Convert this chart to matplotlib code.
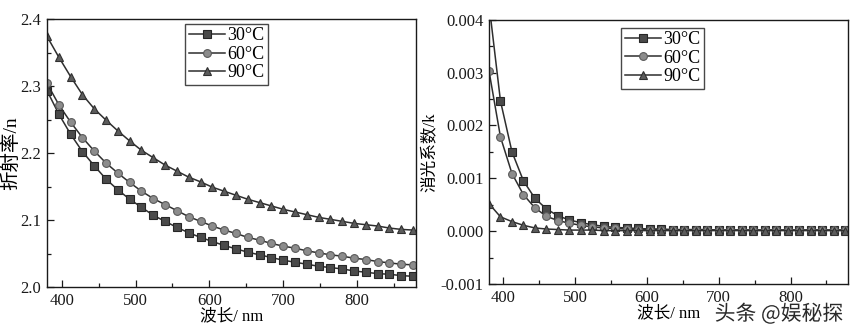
import numpy as np
import matplotlib
matplotlib.use("Agg")
import matplotlib.pyplot as plt
import matplotlib.patheffects as pe
from matplotlib.ticker import MultipleLocator, FormatStrFormatter

plt.rcParams['font.family'] = ['Liberation Serif', 'Noto Sans CJK SC']

wavelength = [380, 396, 412, 428, 444, 460, 476, 492, 508, 524, 540, 556, 572, 588,
              604, 620, 636, 652, 668, 684, 700, 716, 732, 748, 764, 780, 796, 812,
              828, 844, 860, 876]

# refractive index n
n_30 = [2.293, 2.258, 2.228, 2.202, 2.181, 2.161, 2.145, 2.131, 2.119, 2.107, 2.098,
        2.089, 2.081, 2.074, 2.068, 2.062, 2.057, 2.052, 2.048, 2.044, 2.040, 2.037,
        2.034, 2.031, 2.029, 2.027, 2.024, 2.022, 2.020, 2.019, 2.017, 2.016]
n_60 = [2.304, 2.272, 2.246, 2.223, 2.203, 2.185, 2.170, 2.156, 2.143, 2.132, 2.123,
        2.114, 2.105, 2.098, 2.091, 2.085, 2.080, 2.074, 2.070, 2.065, 2.061, 2.058,
        2.054, 2.051, 2.048, 2.046, 2.043, 2.041, 2.038, 2.036, 2.034, 2.033]
n_90 = [2.374, 2.343, 2.314, 2.287, 2.266, 2.249, 2.233, 2.218, 2.204, 2.193, 2.182,
        2.173, 2.164, 2.157, 2.149, 2.143, 2.137, 2.131, 2.126, 2.121, 2.116, 2.112,
        2.108, 2.104, 2.101, 2.098, 2.095, 2.093, 2.091, 2.088, 2.086, 2.085]

# extinction coefficient k
k_30 = [0.00430, 0.00246, 0.00150, 0.00095, 0.00062, 0.00042, 0.00029, 0.00021,
        0.00016, 0.00012, 0.00009, 0.00007, 0.00006, 0.00005, 0.00004, 0.00004,
        0.00003, 0.00003, 0.00003, 0.00003, 0.00002, 0.00002, 0.00002, 0.00002,
        0.00002, 0.00002, 0.00002, 0.00002, 0.00002, 0.00002, 0.00002, 0.00002]
k_60 = [0.00303, 0.00178, 0.00109, 0.00069, 0.00044, 0.00028, 0.00020, 0.00015,
        0.00011, 0.00008, 0.00006, 0.00005, 0.00004, 0.00003, 0.00003, 0.00003,
        0.00002, 0.00002, 0.00002, 0.00002, 0.00002, 0.00002, 0.00002, 0.00002,
        0.00002, 0.00002, 0.00002, 0.00002, 0.00002, 0.00002, 0.00002, 0.00002]
k_90 = [0.00052, 0.00027, 0.00018, 0.00011, 0.00006, 0.00004, 0.00003, 0.00002,
        0.00002, 0.00002, 0.00001, 0.00001, 0.00001, 0.00001, 0.00001, 0.00001,
        0.00001, 0.00001, 0.00001, 0.00001, 0.00001, 0.00001, 0.00001, 0.00001,
        0.00001, 0.00001, 0.00001, 0.00001, 0.00001, 0.00001, 0.00001, 0.00001]

labels = ['30°C', '60°C', '90°C']

styles = [
    dict(marker='s', markerfacecolor='#4a4a4a', markeredgecolor='#262626'),
    dict(marker='o', markerfacecolor='#8c8c8c', markeredgecolor='#5a5a5a'),
    dict(marker='^', markerfacecolor='#5c5c5c', markeredgecolor='#303030'),
]


def setup(ax, ylim, major, minor, fmt):
    ax.set_xlim(380, 880)
    ax.set_ylim(*ylim)
    ax.xaxis.set_major_locator(MultipleLocator(100))
    ax.xaxis.set_minor_locator(MultipleLocator(50))
    ax.yaxis.set_major_locator(MultipleLocator(major))
    ax.yaxis.set_minor_locator(MultipleLocator(minor))
    ax.yaxis.set_major_formatter(FormatStrFormatter(fmt))
    ax.tick_params(which='both', direction='in', top=False, right=False,
                   labelsize=12, colors='#1a1a1a', width=0.9)
    ax.tick_params(which='major', length=5, pad=4)
    ax.tick_params(which='minor', length=3)
    for sp in ax.spines.values():
        sp.set_linewidth(1.0)
        sp.set_color('#1a1a1a')


def draw(ax, series):
    for y, lab, st in zip(series, labels, styles):
        ax.plot(wavelength, y, color='#2e2e2e', linewidth=1.1, markersize=5.6,
                markeredgewidth=0.8, label=lab, **st)


def add_legend(ax, anchor):
    leg = ax.legend(loc='upper left', bbox_to_anchor=anchor, fontsize=13,
                    frameon=True, fancybox=False, edgecolor='#1a1a1a',
                    handlelength=2.0, handletextpad=0.15, borderpad=0.2,
                    labelspacing=0.08, borderaxespad=0)
    leg.get_frame().set_linewidth(1.0)
    return leg


fig = plt.figure(figsize=(8.6, 3.3), dpi=100)
ax1 = fig.add_axes([0.0547, 0.1303, 0.429, 0.812])
ax2 = fig.add_axes([0.5686, 0.1394, 0.4174, 0.801])

draw(ax1, [n_30, n_60, n_90])
setup(ax1, (2.0, 2.4), 0.1, 0.05, '%.1f')
ax1.set_xlabel('波长/ nm', fontsize=12, labelpad=0)
ax1.set_ylabel('折射率/n', fontsize=14, labelpad=0)
add_legend(ax1, (0.374, 0.982))

draw(ax2, [k_30, k_60, k_90])
setup(ax2, (-0.001, 0.004), 0.001, 0.0005, '%.3f')
ax2.set_xlabel('波长/ nm', fontsize=12, labelpad=0)
ax2.set_ylabel('消光系数/k', fontsize=12, labelpad=2)
add_legend(ax2, (0.368, 0.97))

fig.text(0.831, 0.048, '头条 @娱秘探', fontsize=15, color='#2a2a2a',
         family=['Noto Sans CJK SC', 'DejaVu Sans'], va='center', ha='left',
         path_effects=[pe.withStroke(linewidth=2.5, foreground='white')])

fig.savefig('out.png', dpi=100)
